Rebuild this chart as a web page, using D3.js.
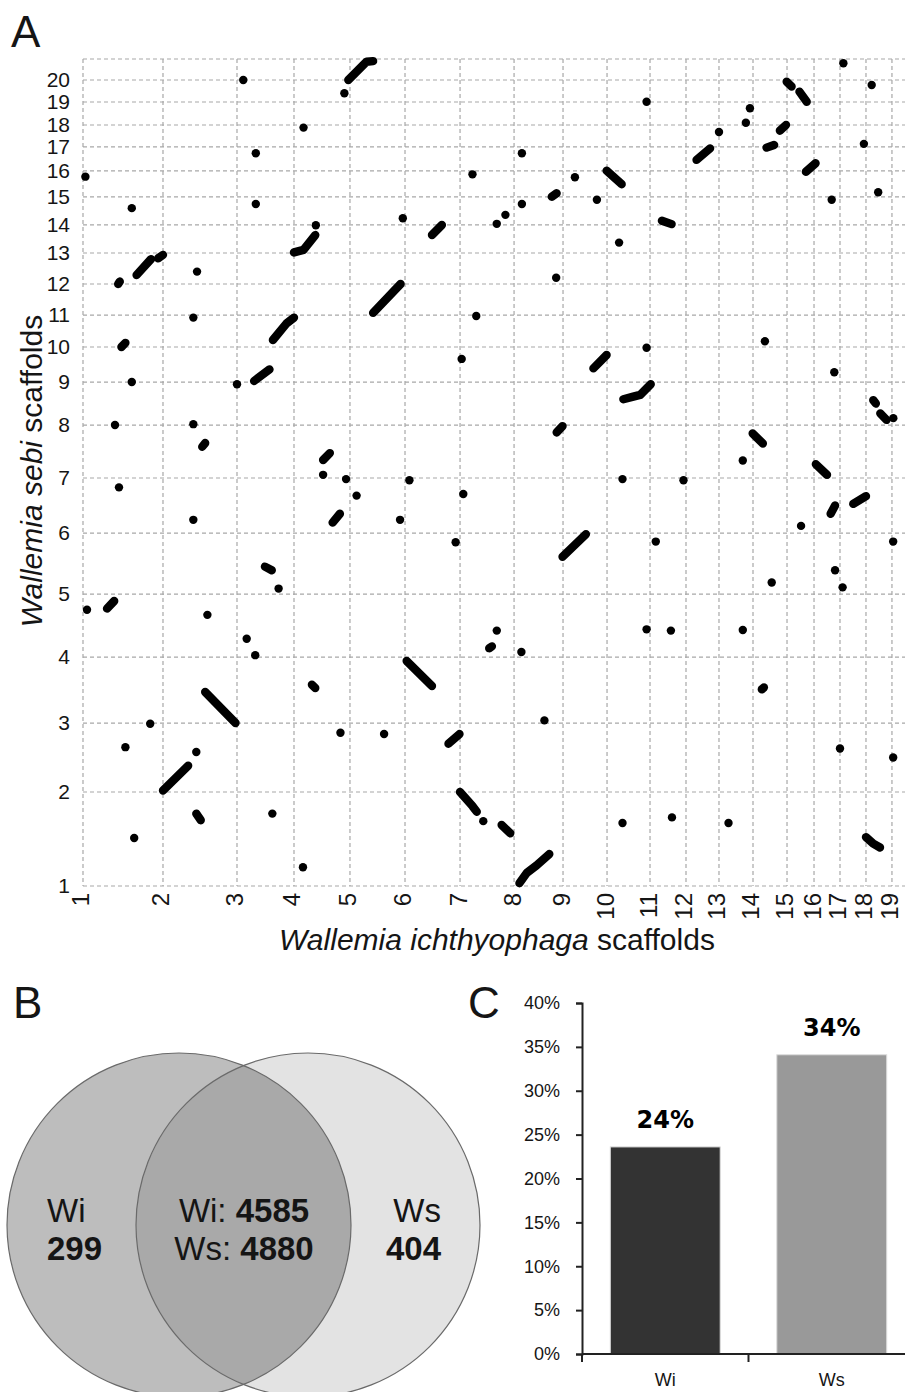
<!DOCTYPE html>
<meta charset="utf-8">
<style>
    body { margin: 0; background: #fff; }
    svg text { font-family: "Liberation Sans", Arial, sans-serif; fill: #151515; }
    .grid line { stroke: #a8a8a8; stroke-width: 1.2; stroke-dasharray: 4,3; }
    .axisC path, .axisC line { stroke: #222; stroke-width: 2; fill: none; }
    .axisC text { font-size: 18px; }
</style>

<svg width="905" height="1392"></svg>

<script src="https://cdn.jsdelivr.net/npm/d3@7"></script>

<script>
    // scaffold lengths (kb)
    var wiLengths = [936, 866, 667, 655, 644, 644, 632, 573, 515, 503, 421, 386, 398, 398, 316, 304, 304, 304, 176];
    var wsLengths = [1100, 807, 772, 737, 714, 644, 620, 503, 410, 374, 363, 363, 328, 328, 304, 281, 257, 269, 257, 246];

    // single hits: [Wi scaffold.fraction, Ws scaffold.fraction]
    var dots = [
        [3.11, 20.0], [1.03, 15.78], [1.61, 14.6], [3.33, 16.74], [3.33, 14.75], [2.46, 12.4],
        [2.41, 10.92], [1.61, 9.0], [3.0, 8.95], [1.4, 8.0], [2.41, 8.02], [4.17, 17.88],
        [1.45, 6.83], [2.41, 6.24], [3.73, 5.09], [1.05, 4.75], [2.6, 4.67], [3.17, 4.29],
        [3.32, 4.03], [1.84, 2.99], [1.53, 2.65], [2.45, 2.58], [3.62, 1.77], [1.64, 1.51],
        [4.16, 1.2], [4.90, 19.4], [8.16, 16.74], [7.23, 15.87], [9.27, 15.76], [9.77, 14.9],
        [8.16, 14.75], [7.84, 14.36], [7.68, 14.04], [5.96, 14.24], [4.39, 13.99], [8.86, 12.2],
        [7.30, 10.97], [7.03, 9.66], [4.52, 7.06], [4.93, 6.98], [6.08, 6.96], [7.06, 6.71],
        [5.12, 6.68], [5.91, 6.24], [6.92, 5.85], [7.68, 4.42], [8.15, 4.08], [4.83, 2.86],
        [5.62, 2.84], [8.62, 3.04], [7.43, 1.69], [17.13, 20.8], [18.22, 19.77], [10.92, 19.01],
        [13.91, 18.73], [13.79, 18.1], [13.0, 17.68], [17.92, 17.14], [16.68, 14.9], [18.47, 15.18],
        [10.28, 13.37], [10.92, 9.98], [14.35, 10.18], [16.78, 9.28], [19.09, 8.16], [13.7, 7.33],
        [10.36, 6.98], [11.93, 6.96], [15.52, 6.13], [11.16, 5.86], [19.08, 5.86], [16.81, 5.39],
        [17.1, 5.11], [14.55, 5.19], [10.92, 4.44], [11.58, 4.42], [13.7, 4.43], [17.0, 2.63],
        [19.08, 2.5], [10.36, 1.67], [11.61, 1.73], [13.28, 1.67]
    ];

    // syntenic runs (consecutive hits), same coordinates
    var runs = [
        [[1.44, 12.0], [1.46, 12.08]],
        [[1.67, 12.29], [1.85, 12.8]],
        [[1.94, 12.83], [2.0, 12.94]],
        [[1.48, 10.0], [1.53, 10.13]],
        [[3.30, 9.03], [3.57, 9.36]],
        [[3.63, 10.22], [3.87, 10.74], [4.0, 10.92]],
        [[2.53, 7.59], [2.57, 7.66]],
        [[3.49, 5.45], [3.61, 5.39]],
        [[1.30, 4.77], [1.39, 4.89]],
        [[2.57, 3.47], [2.98, 3.0]],
        [[2.0, 2.02], [2.34, 2.38]],
        [[2.45, 1.77], [2.51, 1.70]],
        [[4.97, 20.0], [5.30, 20.87], [5.42, 20.9]],
        [[8.77, 15.01], [8.87, 15.14]],
        [[6.49, 13.64], [6.67, 14.0]],
        [[4.0, 13.02], [4.17, 13.11], [4.38, 13.64]],
        [[5.42, 11.07], [5.92, 12.0]],
        [[8.87, 7.86], [8.99, 7.98]],
        [[4.52, 7.34], [4.64, 7.47]],
        [[4.69, 6.19], [4.82, 6.35]],
        [[8.99, 5.61], [9.52, 5.98]],
        [[7.54, 4.14], [7.59, 4.17]],
        [[6.03, 3.94], [6.49, 3.56]],
        [[4.32, 3.58], [4.38, 3.53]],
        [[6.79, 2.70], [6.99, 2.84]],
        [[7.0, 2.0], [7.23, 1.85], [7.31, 1.79]],
        [[7.77, 1.65], [7.93, 1.56]],
        [[8.11, 1.03], [8.26, 1.14], [8.46, 1.22], [8.72, 1.34]],
        [[14.99, 19.92], [15.17, 19.7]],
        [[15.46, 19.47], [15.73, 19.01]],
        [[14.79, 17.74], [14.97, 18.0]],
        [[14.4, 16.97], [14.62, 17.09]],
        [[12.32, 16.46], [12.73, 16.94]],
        [[15.70, 15.97], [16.06, 16.32]],
        [[9.99, 16.01], [10.34, 15.49]],
        [[11.33, 14.15], [11.6, 14.03]],
        [[9.69, 9.39], [9.99, 9.77]],
        [[10.38, 8.6], [10.61, 8.66], [10.77, 8.7], [11.02, 8.95]],
        [[18.28, 8.58], [18.38, 8.5]],
        [[18.55, 8.27], [18.79, 8.12]],
        [[13.99, 7.84], [14.29, 7.65]],
        [[16.07, 7.26], [16.5, 7.06]],
        [[16.64, 6.35], [16.81, 6.5]],
        [[17.51, 6.53], [18.0, 6.67]],
        [[14.26, 3.51], [14.32, 3.54]],
        [[18.0, 1.52], [18.28, 1.45], [18.54, 1.41]]
    ];

    // Venn (B)
    var vennSets = ["Wi", "Ws"];
    var vennOnly = [299, 404];
    var vennShared = [4585, 4880];

    // bars (C)
    var barCats = ["Wi", "Ws"];
    var barValues = [23.6, 34.1];
    var barTicks = [0, 5, 10, 15, 20, 25, 30, 35, 40];

    (function () {
        var svg = d3.select("svg");

        function starts(lengths) {
            var s = [0];
            lengths.forEach(function (l) { s.push(s[s.length - 1] + l); });
            return s;
        }
        var wiStart = starts(wiLengths),
            wsStart = starts(wsLengths);

        // scaffold.fraction -> kb along the concatenated genome
        function kb(v, st) {
            var i = Math.floor(v) - 1;
            return st[i] + (v - i - 1) * (st[i + 1] - st[i]);
        }

        /* ---------- A: dot plot ---------- */
        var x = d3.scaleLinear().domain([0, wiStart[wiStart.length - 1]]).range([83, 907]),
            y = d3.scaleLinear().domain([0, wsStart[wsStart.length - 1]]).range([886, 59]);

        var grid = svg.append("g").attr("class", "grid");
        grid.selectAll(".v").data(wiStart.slice(0, wiLengths.length)).enter().append("line")
            .attr("x1", function (d) { return x(d); }).attr("x2", function (d) { return x(d); })
            .attr("y1", y.range()[1]).attr("y2", y.range()[0]);
        grid.selectAll(".h").data(wsStart).enter().append("line")
            .attr("y1", function (d) { return y(d); }).attr("y2", function (d) { return y(d); })
            .attr("x1", x.range()[0]).attr("x2", x.range()[1]);

        // tick labels
        svg.append("g").selectAll("text").data(wsLengths).enter().append("text")
            .attr("x", 70)
            .attr("y", function (d, i) { return y(wsStart[i]); })
            .attr("dy", "0.34em")
            .attr("text-anchor", "end")
            .style("font-size", "21px")
            .text(function (d, i) { return i + 1; });

        svg.append("g").selectAll("text").data(wiLengths).enter().append("text")
            .attr("transform", function (d, i) {
                return "translate(" + [x(wiStart[i]), 893] + ") rotate(-90)";
            })
            .attr("dy", "0.27em")
            .attr("text-anchor", "end")
            .style("font-size", "24px")
            .text(function (d, i) { return i + 1; });

        // axis titles
        var xt = svg.append("text")
            .attr("x", 497).attr("y", 950)
            .attr("text-anchor", "middle")
            .style("font-size", "30px");
        xt.append("tspan").style("font-style", "italic").text("Wallemia ichthyophaga");
        xt.append("tspan").text(" scaffolds");

        var yt = svg.append("text")
            .attr("transform", "translate(42,471) rotate(-90)")
            .attr("text-anchor", "middle")
            .style("font-size", "30px");
        yt.append("tspan").style("font-style", "italic").text("Wallemia sebi");
        yt.append("tspan").text(" scaffolds");

        // hits
        var line = d3.line()
            .x(function (d) { return x(kb(d[0], wiStart)); })
            .y(function (d) { return y(kb(d[1], wsStart)); });

        svg.append("g").selectAll("path").data(runs).enter().append("path")
            .attr("d", line)
            .attr("fill", "none")
            .attr("stroke", "#000")
            .attr("stroke-width", 8.4)
            .attr("stroke-linecap", "round")
            .attr("stroke-linejoin", "round");

        svg.append("g").selectAll("circle").data(dots).enter().append("circle")
            .attr("cx", function (d) { return x(kb(d[0], wiStart)); })
            .attr("cy", function (d) { return y(kb(d[1], wsStart)); })
            .attr("r", 4.2)
            .attr("fill", "#000");

        /* ---------- B: Venn ---------- */
        var r = 172, vcy = 1225, vcx = [179, 308];
        svg.append("defs").append("clipPath").attr("id", "clipWi")
            .append("circle").attr("cx", vcx[0]).attr("cy", vcy).attr("r", r);

        var venn = svg.append("g");
        venn.selectAll(".fill").data(vennSets).enter().append("circle")
            .attr("cx", function (d, i) { return vcx[i]; })
            .attr("cy", vcy).attr("r", r)
            .attr("fill", function (d, i) { return ["#bdbdbd", "#e3e3e3"][i]; });
        venn.append("circle")
            .attr("cx", vcx[1]).attr("cy", vcy).attr("r", r)
            .attr("clip-path", "url(#clipWi)")
            .attr("fill", "#a9a9a9");
        venn.selectAll(".edge").data(vennSets).enter().append("circle")
            .attr("cx", function (d, i) { return vcx[i]; })
            .attr("cy", vcy).attr("r", r)
            .attr("fill", "none")
            .attr("stroke", "#6a6a6a")
            .attr("stroke-width", 1.2);

        var vt = venn.append("g").style("font-size", "33px");
        vt.append("text").attr("x", 47).attr("y", 1222).text(vennSets[0]);
        vt.append("text").attr("x", 47).attr("y", 1260).style("font-weight", "bold").text(vennOnly[0]);
        vt.append("text").attr("x", 441).attr("y", 1222).attr("text-anchor", "end").text(vennSets[1]);
        vt.append("text").attr("x", 441).attr("y", 1260).attr("text-anchor", "end")
            .style("font-weight", "bold").text(vennOnly[1]);
        vennSets.forEach(function (s, i) {
            var t = vt.append("text").attr("x", 244).attr("y", 1222 + i * 38).attr("text-anchor", "middle");
            t.append("tspan").text(s + ": ");
            t.append("tspan").style("font-weight", "bold").text(vennShared[i]);
        });

        /* ---------- C: bars ---------- */
        var yC = d3.scaleLinear().domain([0, 40]).range([1354, 1003]),
            xC = d3.scaleBand().domain(barCats).range([582, 915]).paddingInner(0.34).paddingOuter(0.17);

        svg.append("g").selectAll("rect").data(barValues).enter().append("rect")
            .attr("x", function (d, i) { return xC(barCats[i]); })
            .attr("y", function (d) { return yC(d); })
            .attr("width", xC.bandwidth())
            .attr("height", function (d) { return yC(0) - yC(d); })
            .attr("fill", function (d, i) { return ["#333333", "#999999"][i]; })
            .attr("stroke", "#dcdcdc")
            .attr("stroke-width", 1);

        svg.append("g").selectAll("text").data(barValues).enter().append("text")
            .attr("x", function (d, i) { return xC(barCats[i]) + xC.bandwidth() / 2; })
            .attr("y", function (d) { return yC(d) - 19; })
            .attr("text-anchor", "middle")
            .style("font-family", "'DejaVu Sans', sans-serif")
            .style("font-weight", "bold")
            .style("font-size", "24px")
            .style("fill", "#000")
            .text(function (d) { return Math.round(d) + "%"; });

        svg.append("g").attr("class", "axisC")
            .attr("transform", "translate(582,0)")
            .call(d3.axisLeft(yC).tickValues(barTicks).tickSize(6).tickPadding(16)
                .tickFormat(function (d) { return d + "%"; }))
            .call(function (g) { g.selectAll("text").attr("fill", "#151515"); });

        var xa = svg.append("g").attr("class", "axisC");
        xa.append("line").attr("x1", 582).attr("x2", 905).attr("y1", yC(0)).attr("y2", yC(0));
        var bounds = [xC.range()[0], (xC(barCats[0]) + xC.bandwidth() + xC(barCats[1])) / 2];
        xa.selectAll(".tk").data(bounds).enter().append("line")
            .attr("x1", function (d) { return d; }).attr("x2", function (d) { return d; })
            .attr("y1", yC(0)).attr("y2", yC(0) + 8);
        svg.append("g").selectAll("text").data(barCats).enter().append("text")
            .attr("x", function (d) { return xC(d) + xC.bandwidth() / 2; })
            .attr("y", 1386)
            .attr("text-anchor", "middle")
            .style("font-size", "18px")
            .text(function (d) { return d; });

        /* ---------- panel letters ---------- */
        [["A", 11, 47], ["B", 13, 1018], ["C", 468, 1018]].forEach(function (p) {
            svg.append("text").attr("x", p[1]).attr("y", p[2])
                .style("font-size", "44px").text(p[0]);
        });
    })();
</script>
